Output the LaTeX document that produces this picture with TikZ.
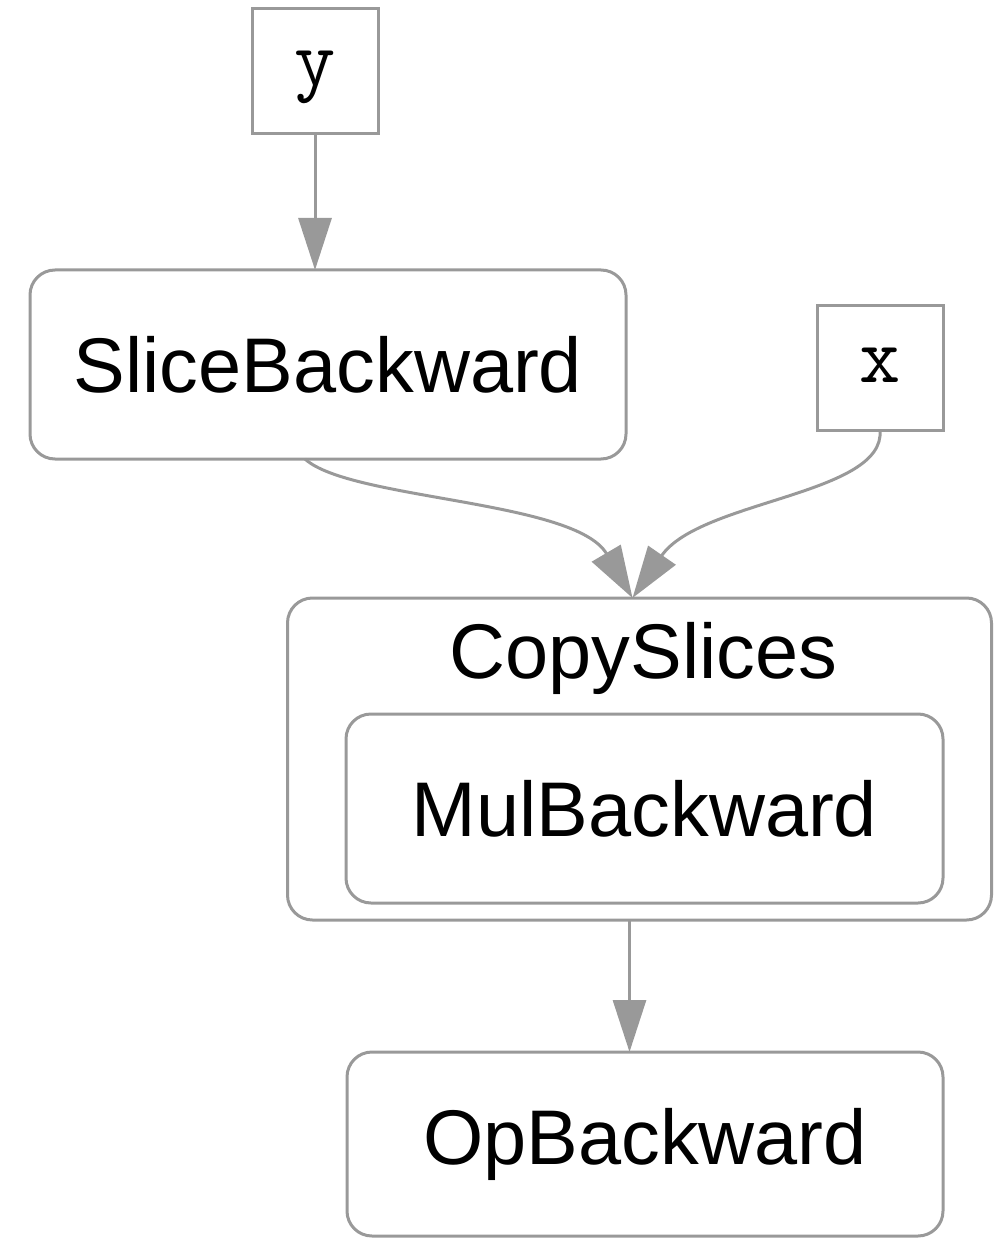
\documentclass[tikz,border=0pt]{standalone}
\usepackage{fontspec}
\setmainfont{Liberation Sans}
\usetikzlibrary{arrows.meta}
\definecolor{edgegray}{RGB}{153,153,153}
\begin{document}
\begin{tikzpicture}[x=1pt,y=-1pt,
  every node/.style={inner sep=0pt, outer sep=0pt},
  varbox/.style={draw=edgegray, line width=3pt, fill=white,
    minimum width=126pt, minimum height=125pt,
    text height=30pt, text depth=0pt,
    font=\ttfamily\fontsize{80}{90}\selectfont},
  fnbox/.style={draw=edgegray, line width=3pt, rounded corners=25pt,
    font=\fontsize{77.5}{90}\selectfont},
  lbl/.style={font=\fontsize{77.5}{90}\selectfont},
  edge/.style={draw=edgegray, line width=3pt,
    -{Triangle[length=52pt,width=33pt]}}]
\useasboundingbox (0,0) rectangle (994,1238);

% leaf variables
\node[varbox] (y) at (315,71) {y};
\node[varbox] (x) at (880,367.5) {x};

% backward functions
\node[fnbox, minimum width=596pt, minimum height=189pt] (slice) at (328,364.5) {SliceBackward};
\node[fnbox, minimum width=704pt, minimum height=322pt] (copy) at (639.5,759) {};
\node[lbl, anchor=base] (copylbl) at (643.5,678) {CopySlices};
\node[fnbox, minimum width=597pt, minimum height=189pt] (mul) at (644.5,808.5) {MulBackward};
\node[fnbox, minimum width=596pt, minimum height=184pt] (op) at (645,1144) {OpBackward};

% edges
\draw[edge] (y.south) -- (y.south |- slice.north);
\draw[edge] ([xshift=-23pt]slice.south) .. controls (350,500) and (575,500) .. ([xshift=-7pt]copy.north);
\draw[edge] (x.south) .. controls (886,495) and (700,500) .. ([xshift=-7pt]copy.north);
\draw[edge] ([xshift=-10pt]copy.south) -- ([xshift=-10pt]copy.south |- op.north);
\end{tikzpicture}
\end{document}
